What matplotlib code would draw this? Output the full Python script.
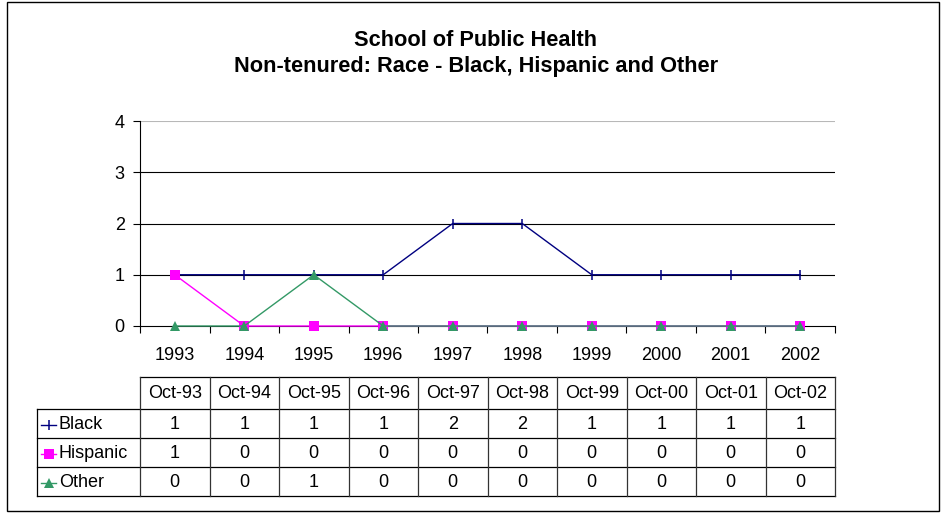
import matplotlib
matplotlib.use('Agg')
import matplotlib.pyplot as plt
from matplotlib.patches import Rectangle
from matplotlib.lines import Line2D
import numpy as np

plt.rcParams['font.family'] = ['Liberation Sans', 'DejaVu Sans']

# Data
years = ['1993', '1994', '1995', '1996', '1997', '1998', '1999', '2000', '2001', '2002']
dates = ['Oct-93', 'Oct-94', 'Oct-95', 'Oct-96', 'Oct-97', 'Oct-98', 'Oct-99', 'Oct-00', 'Oct-01', 'Oct-02']
series_names = ['Black', 'Hispanic', 'Other']
black = [1, 1, 1, 1, 2, 2, 1, 1, 1, 1]
hispanic = [1, 0, 0, 0, 0, 0, 0, 0, 0, 0]
other = [0, 0, 1, 0, 0, 0, 0, 0, 0, 0]
yticks = [0, 1, 2, 3, 4]

styles = {
    'Black': dict(color='#000080', marker='|', ms=7, mew=1.1),
    'Hispanic': dict(color='#FF00FF', marker='s', ms=6.5, mew=0),
    'Other': dict(color='#339966', marker='^', ms=7, mew=0),
}
values = {'Black': black, 'Hispanic': hispanic, 'Other': other}

W, H = 942, 515
fig = plt.figure(figsize=(W / 100, H / 100), dpi=100)

# plot area in pixels
px_l, px_r, px_t, px_b = 140, 835, 121, 326
ax = fig.add_axes([px_l / W, 1 - px_b / H, (px_r - px_l) / W, (px_b - px_t) / H])
x = np.arange(len(years))
for name in series_names:
    st = styles[name]
    ax.plot(x, values[name], color=st['color'], lw=1.0, marker=st['marker'],
            ms=st['ms'], mew=st['mew'], mfc=st['color'], mec=st['color'],
            clip_on=False, zorder=3)

ax.set_xlim(-0.5, len(years) - 0.5)
ax.set_ylim(0, 4)
ax.set_yticks(yticks)
for v in yticks[1:]:
    ax.axhline(v, color='black' if v < 4 else '#b8b8b8', lw=0.8, zorder=1)
ax.set_xticks(np.arange(-0.5, len(years), 1))
ax.set_xticklabels([])
ax.set_xticks(x, minor=True)
ax.set_xticklabels(years, minor=True)
ax.tick_params(axis='x', which='major', direction='out', length=5, width=0.8)
ax.tick_params(axis='x', which='minor', length=0, pad=15, labelsize=13)
ax.tick_params(axis='y', direction='out', length=5, width=0.8, pad=6, labelsize=13)
for s in ['top', 'right']:
    ax.spines[s].set_visible(False)
for s in ['left', 'bottom']:
    ax.spines[s].set_linewidth(0.8)

# overlay in pixel coords for title, border and data table
ov = fig.add_axes([0, 0, 1, 1], zorder=-1)
ov.set_xlim(0, W)
ov.set_ylim(H, 0)
ov.axis('off')
ov.add_patch(Rectangle((7, 2), 932, 509, fill=False, ec='black', lw=1.0))

ov.text(476, 46, 'School of Public Health', ha='center', va='baseline',
        fontsize=15.7, fontweight='bold')
ov.text(476, 72, 'Non-tenured: Race - Black, Hispanic and Other', ha='center',
        va='baseline', fontsize=15.7, fontweight='bold')

# table
n = len(dates)
cw = (px_r - px_l) / n
col_edges = [px_l + i * cw for i in range(n + 1)]
row_edges = [377, 409, 438, 467, 496]
tab_left = 37
lc = 'black'
# horizontal lines
ov.plot([px_l, px_r], [row_edges[0], row_edges[0]], color=lc, lw=0.9)
for y in row_edges[1:]:
    ov.plot([tab_left, px_r], [y, y], color=lc, lw=0.9)
# vertical lines
ov.plot([tab_left, tab_left], [row_edges[1], row_edges[-1]], color=lc, lw=0.9)
for xe in col_edges:
    ov.plot([xe, xe], [row_edges[0], row_edges[-1]], color='#333333', lw=0.9)

for i, d in enumerate(dates):
    ov.text((col_edges[i] + col_edges[i + 1]) / 2, (row_edges[0] + row_edges[1]) / 2 + 1,
            d, ha='center', va='center', fontsize=13)
for r, name in enumerate(series_names):
    yc = (row_edges[r + 1] + row_edges[r + 2]) / 2 + 1
    st = styles[name]
    ov.add_line(Line2D([41, 56], [yc, yc], color=st['color'], lw=1.0))
    ov.plot([48.5], [yc], marker=st['marker'], ms=st['ms'], mew=st['mew'],
            color=st['color'], mfc=st['color'], mec=st['color'])
    ov.text(59, yc, name, ha='left', va='center', fontsize=13)
    for i, v in enumerate(values[name]):
        ov.text((col_edges[i] + col_edges[i + 1]) / 2, yc, str(v), ha='center',
                va='center', fontsize=13)

fig.savefig('out.png', dpi=100, facecolor='white')
